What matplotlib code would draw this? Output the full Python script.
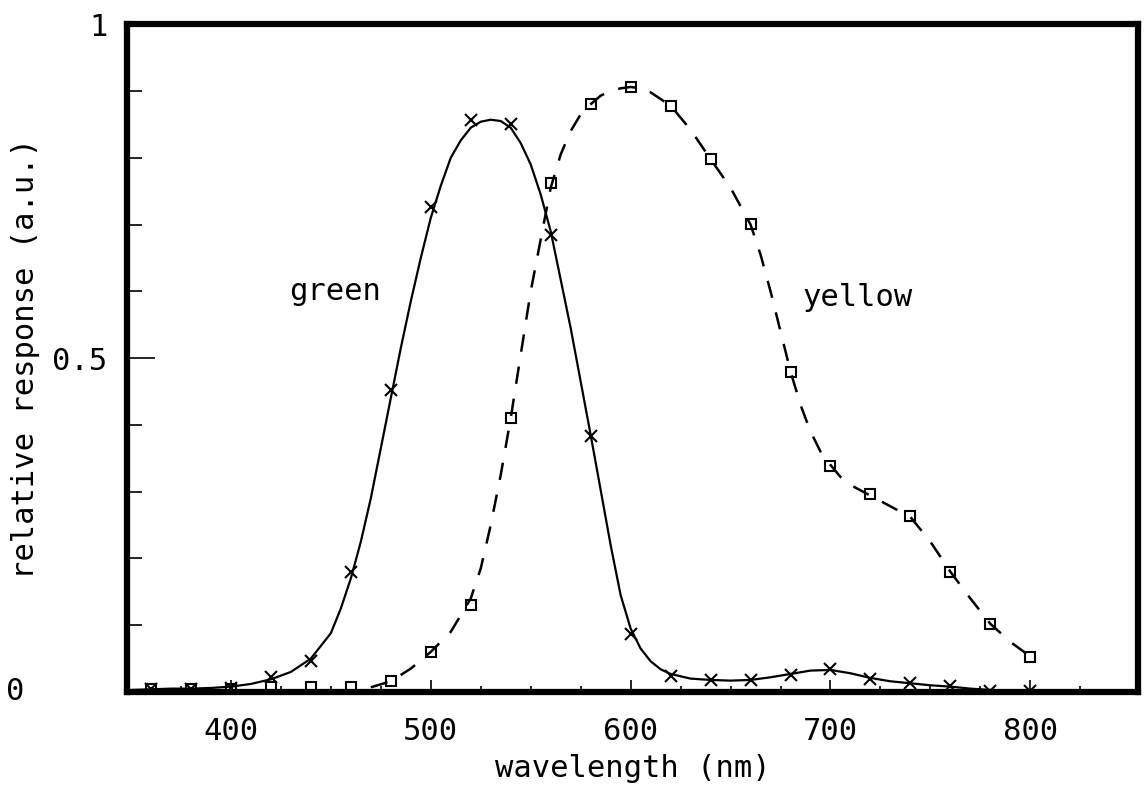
import matplotlib
matplotlib.use('Agg')
import matplotlib.pyplot as plt
import matplotlib.transforms as mtransforms
from matplotlib.ticker import FixedLocator, FixedFormatter

# measured points (markers), every 20 nm
wl_pts = [360, 380, 400, 420, 440, 460, 480, 500, 520, 540, 560, 580,
          600, 620, 640, 660, 680, 700, 720, 740, 760, 780, 800]
green_pts = [0.005, 0.005, 0.006, 0.022, 0.047, 0.18, 0.452, 0.727, 0.857, 0.85, 0.685, 0.384,
             0.087, 0.024, 0.018, 0.018, 0.026, 0.034, 0.019, 0.013, 0.009, 0.002, 0.002]
yellow_pts = [0.004, 0.004, 0.005, 0.008, 0.007, 0.008, 0.017, 0.06, 0.13, 0.411, 0.762, 0.88,
              0.906, 0.878, 0.798, 0.701, 0.479, 0.339, 0.296, 0.263, 0.18, 0.102, 0.053]

# smoothed curves
wl_green = [350, 360, 370, 380, 390, 400, 410, 420, 430, 440, 450, 455, 460, 465, 470, 480,
            485, 490, 495, 500, 505, 510, 515, 520, 525, 530, 535, 540, 545, 550, 555, 560,
            570, 580, 590, 595, 600, 605, 610, 615, 620, 630, 640, 650, 660, 670, 680, 690,
            700, 710, 720, 730, 740, 750, 760, 770, 780, 790, 800]
green_curve = [0.003, 0.004, 0.005, 0.005, 0.006, 0.008, 0.012, 0.019, 0.03, 0.05, 0.088,
               0.125, 0.17, 0.225, 0.29, 0.44, 0.515, 0.585, 0.65, 0.71, 0.758, 0.8, 0.826,
               0.845, 0.854, 0.857, 0.855, 0.845, 0.822, 0.79, 0.745, 0.69, 0.545, 0.385,
               0.22, 0.145, 0.095, 0.065, 0.046, 0.034, 0.027, 0.02, 0.018, 0.017, 0.018,
               0.022, 0.027, 0.032, 0.033, 0.028, 0.021, 0.016, 0.013, 0.01, 0.008, 0.005,
               0.003, 0.002, 0.002]

wl_yellow = [470, 480, 490, 500, 510, 520, 525, 530, 535, 540, 550, 560, 565, 570, 575, 580,
             585, 590, 595, 600, 605, 610, 620, 630, 640, 650, 660, 665, 670, 675, 680, 685,
             690, 695, 700, 705, 710, 720, 730, 740, 750, 760, 770, 780, 790, 800]
yellow_curve = [0.007, 0.016, 0.035, 0.06, 0.09, 0.14, 0.185, 0.25, 0.325, 0.41, 0.6, 0.755,
                0.805, 0.84, 0.865, 0.88, 0.893, 0.9, 0.904, 0.906, 0.904, 0.898, 0.878, 0.842,
                0.798, 0.755, 0.70, 0.655, 0.6, 0.54, 0.48, 0.43, 0.39, 0.36, 0.34, 0.322,
                0.31, 0.294, 0.278, 0.262, 0.225, 0.18, 0.14, 0.102, 0.075, 0.053]

x_major = [400, 500, 600, 700, 800]
x_minor = [375, 425, 450, 475, 525, 550, 575, 625, 650, 675, 725, 750, 775, 825]
y_major = [0, 0.5, 1]
y_labels = ['', '0.5', '1']
y_minor = [0.1, 0.2, 0.3, 0.4, 0.6, 0.7, 0.8, 0.9]

plt.rcParams['font.family'] = ['DejaVu Sans Mono', 'DejaVu Sans']
fs = 22

fig = plt.figure(figsize=(11.44, 7.94), dpi=100)
ax = fig.add_axes([0.111, 0.1285, 0.884, 0.841])

ax.plot(wl_green, green_curve, color='black', lw=1.6)
ax.plot(wl_pts, green_pts, ls='none', marker='x', color='black', ms=9, mew=1.5)

ax.plot(wl_yellow, yellow_curve, color='black', lw=1.8, dashes=(7, 6))
ax.plot(wl_pts, yellow_pts, ls='none', marker='s', mfc='none', mec='black', ms=7, mew=1.5)

ax.text(429, 0.6, 'green', fontsize=fs, va='center', ha='left')
ax.text(686, 0.59, 'yellow', fontsize=fs, va='center', ha='left')

ax.set_xlim(348, 854)
ax.set_ylim(0, 1)

ax.xaxis.set_major_locator(FixedLocator(x_major))
ax.xaxis.set_minor_locator(FixedLocator(x_minor))
ax.yaxis.set_major_locator(FixedLocator(y_major))
ax.yaxis.set_major_formatter(FixedFormatter(y_labels))
ax.yaxis.set_minor_locator(FixedLocator(y_minor))

ax.tick_params(axis='x', which='major', direction='in', length=9, width=1.2,
               labelsize=fs, pad=18, top=False)
ax.tick_params(axis='x', which='minor', direction='in', length=4, width=1.2, top=False)
ax.tick_params(axis='y', which='major', direction='in', length=20, width=1.2,
               labelsize=fs, pad=14, right=False)
ax.tick_params(axis='y', which='minor', direction='in', length=11, width=1.2, right=False)

# the "0" label sits far to the left in the original plotter output
trans = mtransforms.blended_transform_factory(fig.transFigure, ax.transData)
ax.text(0.005, 0, '0', fontsize=fs, ha='left', va='center', transform=trans)

for s in ax.spines.values():
    s.set_linewidth(4.5)

ax.set_xlabel('wavelength (nm)', fontsize=fs, labelpad=6)
ax.set_ylabel('relative response (a.u.)', fontsize=fs)
ax.yaxis.set_label_coords(-0.086, 0.5)

fig.savefig('out.png', dpi=100)
